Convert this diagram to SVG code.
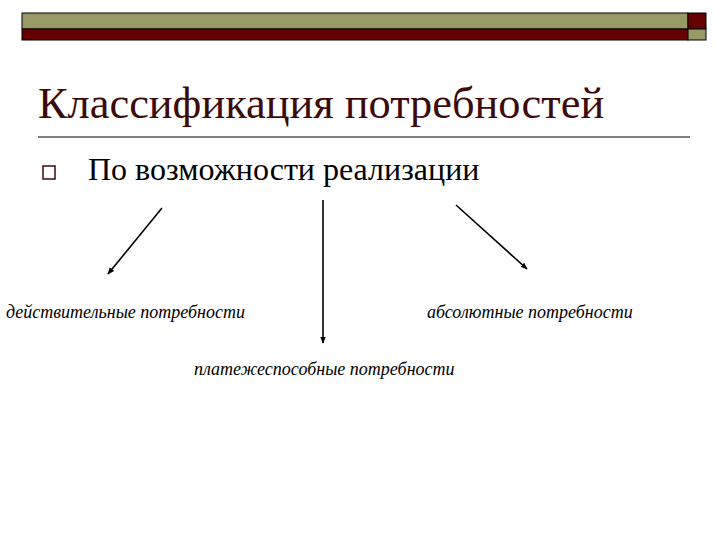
<svg xmlns="http://www.w3.org/2000/svg" width="720" height="540" viewBox="0 0 720 540">
<style>
.serif{font-family:'Liberation Serif','DejaVu Serif',serif}
.lbl{font-family:'Liberation Serif','DejaVu Serif',serif;font-style:italic;font-size:18px;fill:#000}
.conn line{stroke:#000;stroke-width:1.6;marker-end:url(#ah)}
</style>
<defs>
<marker id="ah" viewBox="0 0 10 10" refX="9" refY="5" markerWidth="7" markerHeight="7" orient="auto" markerUnits="userSpaceOnUse"><path d="M0,1 L10,5 L0,9 Z" fill="#000"/></marker>
</defs>
<rect width="720" height="540" fill="#fff"/>
<g id="topbar">
<rect x="22" y="13" width="666" height="16" fill="#999966" stroke="#000" stroke-width="1"/>
<rect x="22" y="29" width="666" height="11" fill="#660000" stroke="#000" stroke-width="1"/>
<rect x="688" y="13" width="18" height="16" fill="#660000" stroke="#000" stroke-width="1"/>
<rect x="688" y="29" width="18" height="11" fill="#999966" stroke="#000" stroke-width="1"/>
</g>
<g id="title">
<text class="serif" x="38" y="118" font-size="44.4" fill="#3d0a0a">Классификация потребностей</text>
<line x1="38" y1="137" x2="690" y2="137" stroke="#000" stroke-width="1"/>
</g>
<g id="bullet">
<rect x="43" y="166" width="12" height="13" fill="none" stroke="#3d0a0a" stroke-width="1.5"/>
<text class="serif" x="88" y="180" font-size="32" fill="#000">По возможности реализации</text>
</g>
<g id="conns" class="conn">
<line x1="162" y1="208" x2="108" y2="274"/>
<line x1="323" y1="200" x2="323" y2="343"/>
<line x1="456" y1="205" x2="527" y2="269"/>
</g>
<g id="n-real"><text class="lbl" x="6" y="318">действительные потребности</text></g>
<g id="n-abs"><text class="lbl" x="427" y="318">абсолютные потребности</text></g>
<g id="n-pay"><text class="lbl" x="194" y="375">платежеспособные потребности</text></g>
</svg>
